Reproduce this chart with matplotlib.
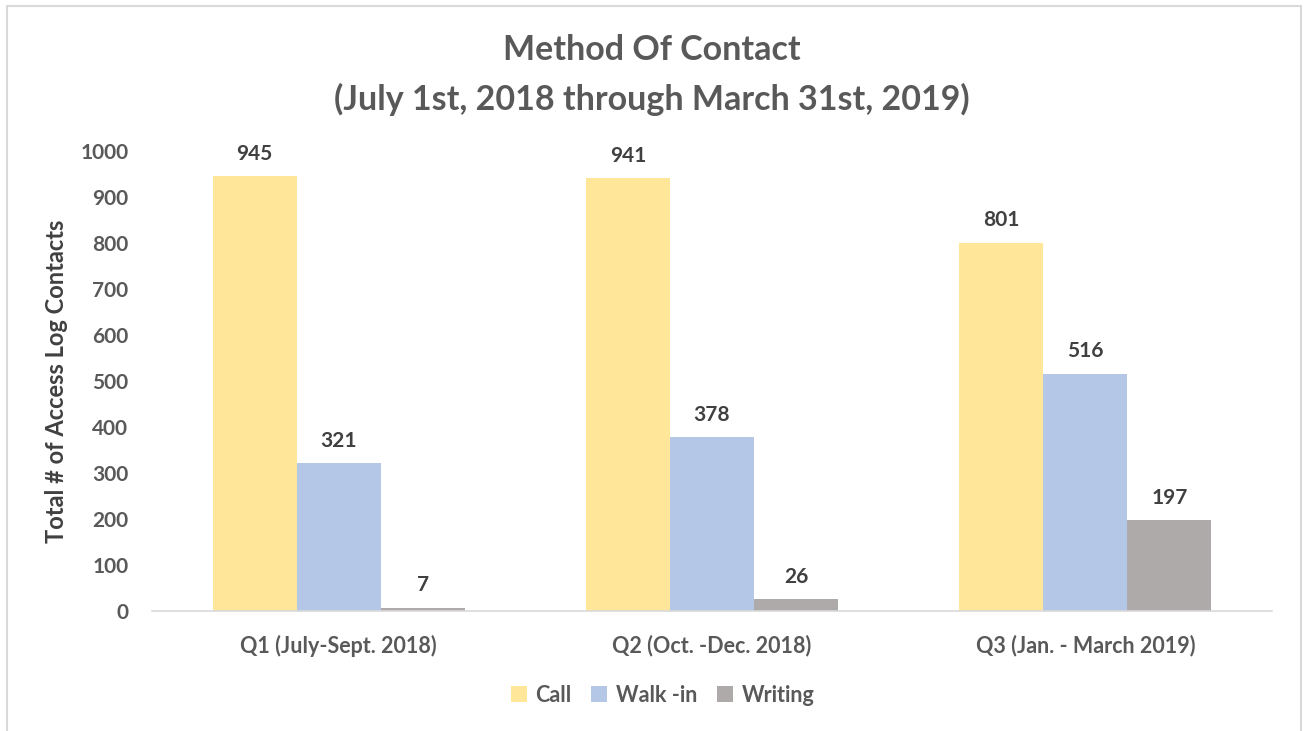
import matplotlib
matplotlib.use("Agg")
import matplotlib.pyplot as plt
import numpy as np
from matplotlib.patches import Rectangle

quarters = ["Q1 (July-Sept. 2018)", "Q2 (Oct. -Dec. 2018)", "Q3 (Jan. - March 2019)"]
series_names = ["Call", "Walk -in", "Writing"]
call = [945, 941, 801]
walk_in = [321, 378, 516]
writing = [7, 26, 197]
colors = ["#FFE699", "#B4C7E7", "#AEAAAA"]

plt.rcParams["font.family"] = ["Lato", "DejaVu Sans"]
plt.rcParams["font.weight"] = "bold"

fig = plt.figure(figsize=(13.04, 7.31), dpi=100)
fig.patches.append(Rectangle((7 / 1304, -0.01), 1294 / 1304, 1.0 - 6 / 731 + 0.01,
                             transform=fig.transFigure, fill=False,
                             edgecolor="#D9D9D9", linewidth=1.5))
ax = fig.add_axes([152 / 1304, 1 - 611 / 731, 1120 / 1304, 460 / 731])

x = np.arange(len(quarters))
width = 0.225
for i, (vals, name) in enumerate(zip([call, walk_in, writing], series_names)):
    bars = ax.bar(x + (i - 1) * width, vals, width, color=colors[i], label=name)
    for b, v in zip(bars, vals):
        ax.text(b.get_x() + b.get_width() / 2, v + 27, str(v), ha="center", va="bottom",
                fontsize=15, fontweight="bold", color="#404040")

ax.set_xlim(-0.5, 2.5)
ax.set_ylim(0, 1000)
ax.set_yticks(range(0, 1001, 100))
ax.set_xticks(x)
ax.set_xticklabels(quarters)
ax.tick_params(axis="both", length=0, labelsize=15, labelcolor="#595959")
ax.tick_params(axis="x", labelsize=15.5, pad=17)
ax.tick_params(axis="y", pad=17)
for s in ["top", "right", "left"]:
    ax.spines[s].set_visible(False)
ax.spines["bottom"].set_color("#D9D9D9")
ax.spines["bottom"].set_linewidth(1.2)

ax.set_ylabel("Total # of Access Log Contacts", fontsize=17, fontweight="bold",
              color="#404040")
ax.yaxis.set_label_coords(-84 / 1120, 0.5)

fig.text(0.5, 1 - 50 / 731, "Method Of Contact", ha="center", va="center",
         fontsize=24.5, fontweight="bold", color="#595959")
fig.text(0.5, 1 - 99 / 731, "(July 1st, 2018 through March 31st, 2019)", ha="center",
         va="center", fontsize=24.5, fontweight="bold", color="#595959")

leg = fig.legend(loc="center", bbox_to_anchor=(0.508, 1 - 695 / 731), ncol=3, frameon=False,
                 fontsize=15.5, handlelength=0.75, handleheight=0.75, columnspacing=0.9,
                 handletextpad=0.4)
for t in leg.get_texts():
    t.set_color("#595959")

fig.savefig("out.png", dpi=100)
